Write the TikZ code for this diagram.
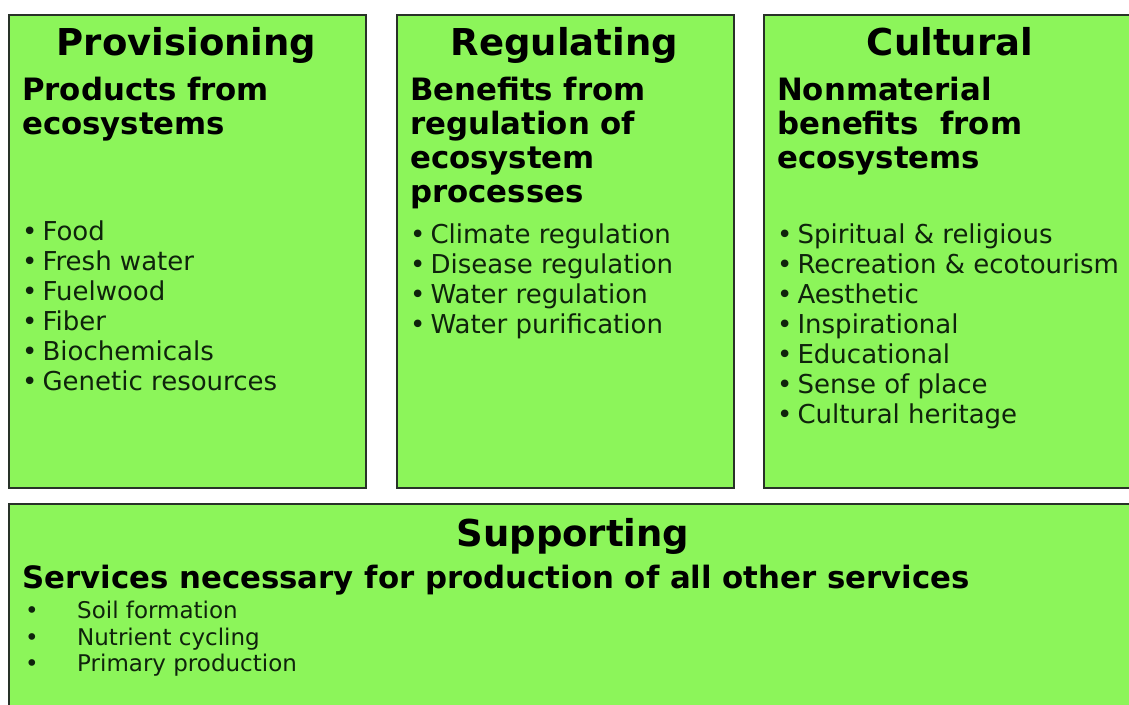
\documentclass[tikz,border=0pt]{standalone}
\usepackage{fontspec}
\setmainfont{DejaVu Sans}
\definecolor{boxgreen}{RGB}{140,245,90}
\definecolor{edgecol}{RGB}{40,50,40}
\definecolor{itemtext}{RGB}{15,35,12}
\newcommand{\bul}{•\kern5pt}
\begin{document}
\begin{tikzpicture}[x=1pt,y=-1pt,
 panel/.style={draw=edgecol,line width=1.8pt,fill=boxgreen,anchor=north west,inner sep=0pt},
 ttl/.style={font=\bfseries\fontsize{37}{37}\selectfont,anchor=base,inner sep=0pt},
 sub/.style={font=\bfseries\fontsize{30.8}{34}\selectfont,anchor=base west,inner sep=0pt},
 itm/.style={font=\fontsize{26}{30}\selectfont,anchor=base west,inner sep=0pt,text=itemtext},
 sitm/.style={font=\fontsize{23}{26}\selectfont,anchor=base west,inner sep=0pt,text=itemtext},
]
\useasboundingbox (0,0) rectangle (1129,704);
\clip (0,0) rectangle (1129,704);
\fill[white] (0,0) rectangle (1129,704);
% panels
\node[panel,minimum width=357pt,minimum height=473pt] (prov) at (8,14) {};
\node[panel,minimum width=337pt,minimum height=473pt] (reg) at (396,14) {};
\node[panel,minimum width=380pt,minimum height=473pt] (cult) at (763,14) {};
\node[panel,minimum width=1135pt,minimum height=220pt] (supp) at (8,503) {};
% Provisioning
\node[ttl] (provt) at (186.5,55) {Provisioning};
\node[sub] (provs1) at (22,100) {Products from};
\node[sub] (provs2) at (22,134) {ecosystems};
\node[itm] (provi1) at (22,240) {\bul Food};
\node[itm] (provi2) at (22,270) {\bul Fresh water};
\node[itm] (provi3) at (22,300) {\bul Fuelwood};
\node[itm] (provi4) at (22,330) {\bul Fiber};
\node[itm] (provi5) at (22,360) {\bul Biochemicals};
\node[itm] (provi6) at (22,390) {\bul Genetic resources};
% Regulating
\node[ttl] (regt) at (564.5,55) {Regulating};
\node[sub] (regs1) at (410,100) {Benefits from};
\node[sub] (regs2) at (410,134) {regulation of};
\node[sub] (regs3) at (410,168) {ecosystem};
\node[sub] (regs4) at (410,202) {processes};
\node[itm] (regi1) at (410,243) {\bul Climate regulation};
\node[itm] (regi2) at (410,273) {\bul Disease regulation};
\node[itm] (regi3) at (410,303) {\bul Water regulation};
\node[itm] (regi4) at (410,333) {\bul Water purification};
% Cultural
\node[ttl] (cultt) at (950,55) {Cultural};
\node[sub] (cults1) at (777,100) {Nonmaterial};
\node[sub] (cults2) at (777,134) {benefits\ \ from};
\node[sub] (cults3) at (777,168) {ecosystems};
\node[itm] (culti1) at (777,243) {\bul Spiritual \& religious};
\node[itm] (culti2) at (777,273) {\bul Recreation \& ecotourism};
\node[itm] (culti3) at (777,303) {\bul Aesthetic};
\node[itm] (culti4) at (777,333) {\bul Inspirational};
\node[itm] (culti5) at (777,363) {\bul Educational};
\node[itm] (culti6) at (777,393) {\bul Sense of place};
\node[itm] (culti7) at (777,423) {\bul Cultural heritage};
% Supporting
\node[ttl] (suppt) at (573,546) {Supporting};
\node[sub] (supps) at (22,588) {Services necessary for production of all other services};
\node[sitm] (suppb1) at (25,618) {•};
\node[sitm] (suppb2) at (25,645) {•};
\node[sitm] (suppb3) at (25,671) {•};
\node[sitm] (suppi1) at (77,618) {Soil formation};
\node[sitm] (suppi2) at (77,645) {Nutrient cycling};
\node[sitm] (suppi3) at (77,671) {Primary production};
\end{tikzpicture}
\end{document}
